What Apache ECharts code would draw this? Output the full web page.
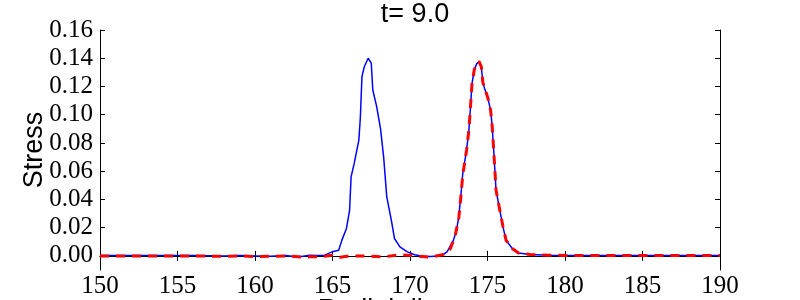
<!DOCTYPE html>
<html>
<head>
<meta charset="utf-8">
<script src="https://cdn.jsdelivr.net/npm/echarts@6/dist/echarts.min.js"></script>
<style>html,body{margin:0;padding:0;background:#fff}#c{width:800px;height:300px}</style>
</head>
<body>
<div id="c"></div>
<script>
// Blue (solid) series
const blueX = [150,152,154,156,158,159,160,161,162,162.5,163,163.5,164,164.5,165,165.4,165.6,165.9,166.1,166.2,166.4,166.7,166.8,166.9,167.05,167.3,167.5,167.6,167.85,168.1,168.3,168.5,168.8,169.0,169.35,169.8,170.3,170.8,171.3,171.8,172.1,172.4,172.8,173.0,173.15,173.3,173.4,173.65,173.8,173.9,174.0,174.15,174.3,174.45,174.6,174.7,174.8,175.0,175.2,175.3,175.4,175.55,175.8,176.0,176.2,176.6,177.0,177.75,179,181,185,190];
const blueY = [0.0003,0.0003,0.0002,0.0002,0.0,0.0002,0.0,-0.0003,0.0002,-0.0005,-0.0005,0.0005,0.0003,0.0005,0.003,0.004,0.011,0.0194,0.032,0.056,0.0655,0.082,0.0986,0.127,0.134,0.140,0.1365,0.1175,0.1057,0.090,0.070,0.042,0.025,0.0123,0.0064,0.003,0.0008,-0.0003,-0.0005,0.0,0.0005,0.003,0.011,0.018,0.028,0.045,0.058,0.075,0.089,0.105,0.122,0.132,0.136,0.1377,0.134,0.123,0.119,0.1128,0.1033,0.092,0.075,0.0466,0.032,0.0206,0.011,0.0052,0.002,0.001,0.0005,0.0002,0.0002,0.0002];
// Red (dashed) series
const redX = [150,153,156,158,159,160,161,162,163,164.2,165,165.5,166.1,167,168.3,169.35,170.4,171.3,172.15,172.6,172.9,173.15,173.3,173.4,173.65,173.8,173.9,174.0,174.15,174.3,174.45,174.6,174.7,174.8,175.0,175.2,175.3,175.4,175.55,175.8,176.0,176.2,176.6,177.0,177.75,179,181,185,190];
const redY = [0.0,0.0,0.0,-0.0003,0.0,-0.0005,-0.0003,0.0,-0.0008,-0.0005,0.0005,-0.001,0.0,0.0,-0.0007,0.0008,0.0,-0.001,0.001,0.005,0.0135,0.027,0.044,0.057,0.075,0.089,0.105,0.122,0.132,0.136,0.1377,0.134,0.123,0.119,0.1128,0.1033,0.092,0.075,0.0466,0.032,0.0206,0.011,0.0052,0.002,0.001,0.0005,0.0002,0.0002,0.0002];
// Axis ticks
const xTicks = [150,155,160,165,170,175,180,185,190];
const yTicks = [0,0.02,0.04,0.06,0.08,0.10,0.12,0.14,0.16];
const titleText = 't= 9.0';
const xName = 'Radial distance';
const yName = 'Stress';

const serif = 'Liberation Serif';
const sans = 'Liberation Sans';
const chart = echarts.init(document.getElementById('c'), null, {renderer: 'canvas'});
const tickStyle = {show: true, inside: true, length: 5, lineStyle: {color: '#000', width: 1}};
const lineStyle = {show: true, lineStyle: {color: '#000', width: 1}};
chart.setOption({
  animation: false,
  backgroundColor: '#fff',
  title: {text: titleText, left: 410, top: -4, textAlign: 'center',
    textStyle: {fontFamily: sans, fontSize: 27, fontWeight: 'normal', color: '#000'}},
  grid: {left: 100, right: 80, top: 30, bottom: 30, containLabel: false, outerBoundsMode: 'none'},
  xAxis: [
    {type: 'value', min: 150, max: 190, interval: 5, position: 'bottom',
     name: xName, nameLocation: 'middle', nameGap: 27, nameMoveOverlap: false,
     nameTextStyle: {fontFamily: sans, fontSize: 27, color: '#000'},
     axisLine: lineStyle, axisTick: tickStyle, splitLine: {show: false},
     axisLabel: {fontFamily: serif, fontSize: 25, color: '#000', margin: 4,
       showMinLabel: true, showMaxLabel: true, hideOverlap: false, customValues: xTicks}},
    {type: 'value', min: 150, max: 190, interval: 5, position: 'top',
     axisLine: lineStyle, axisTick: tickStyle, splitLine: {show: false},
     axisLabel: {show: false}}
  ],
  yAxis: [
    {type: 'value', min: -0.01, max: 0.16, position: 'left',
     name: yName, nameLocation: 'middle', nameGap: 52, nameRotate: 90, nameMoveOverlap: false,
     nameTextStyle: {fontFamily: sans, fontSize: 27, color: '#000'},
     axisLine: lineStyle, splitLine: {show: false},
     axisTick: Object.assign({}, tickStyle, {customValues: yTicks}),
     axisLabel: {fontFamily: serif, fontSize: 25, color: '#000', margin: 7,
       showMinLabel: true, showMaxLabel: true, hideOverlap: false,
       customValues: yTicks, formatter: v => v.toFixed(2)}},
    {type: 'value', min: -0.01, max: 0.16, position: 'right',
     axisLine: lineStyle, splitLine: {show: false},
     axisTick: Object.assign({}, tickStyle, {customValues: yTicks}),
     axisLabel: {show: false}}
  ],
  series: [
    {type: 'line', xAxisIndex: 0, yAxisIndex: 0, showSymbol: false, symbol: 'none',
     data: blueX.map((x, i) => [x, blueY[i]]),
     lineStyle: {color: '#0000ff', width: 1.5}, z: 2},
    {type: 'line', xAxisIndex: 0, yAxisIndex: 0, showSymbol: false, symbol: 'none',
     data: redX.map((x, i) => [x, redY[i]]),
     lineStyle: {color: '#ff0000', width: 3, type: [9, 7]}, z: 3}
  ]
});
</script>
</body>
</html>
